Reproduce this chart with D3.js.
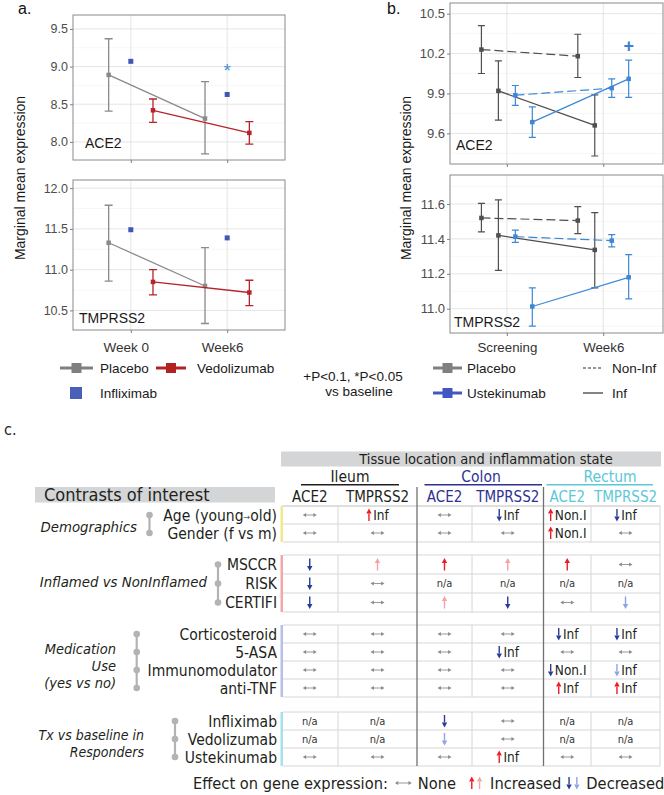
<!DOCTYPE html>
<html><head><meta charset="utf-8">
<script src="https://cdn.jsdelivr.net/npm/d3@7/dist/d3.min.js"></script>
<style>
html,body{margin:0;padding:0;background:#fff;}
svg{display:block;}
.cond{font-family:"DejaVu Sans Condensed","DejaVu Sans",sans-serif;font-stretch:condensed;}
</style></head><body>
<svg id="chart" width="664" height="795"></svg>
<script>
// ---------------- DATA ----------------
// Panel a (x categories)
const weeksA = ["Week 0", "Week6"];
// [mean, lower, upper] per timepoint
const aAce2Placebo      = [[8.89, 8.41, 9.37], [8.31, 7.84, 8.80]];
const aAce2Vedolizumab  = [[8.42, 8.26, 8.57], [8.12, 7.97, 8.27]];
const aAce2Infliximab   = [9.07, 8.63];
const aTmpPlacebo       = [[11.33, 10.86, 11.79], [10.80, 10.34, 11.27]];
const aTmpVedolizumab   = [[10.85, 10.69, 11.00], [10.72, 10.56, 10.87]];
const aTmpInfliximab    = [11.49, 11.39];
const aAce2Ticks = [8.0, 8.5, 9.0, 9.5];
const aTmpTicks  = [10.5, 11.0, 11.5, 12.0];
const aAce2SigLabel = ["", "*"];
const aAce2SigValue = [null, 8.99];

// Panel b
const weeksB = ["Screening", "Week6"];
const bAce2PlaceboNonInf = [[10.23, 10.05, 10.41], [10.18, 10.02, 10.345]];
const bAce2PlaceboInf    = [[9.92, 9.70, 10.145], [9.66, 9.43, 9.89]];
const bAce2UsteNonInf    = [[9.887, 9.81, 9.96], [9.94, 9.87, 10.01]];
const bAce2UsteInf       = [[9.685, 9.57, 9.80], [10.01, 9.87, 10.15]];
const bTmpPlaceboNonInf  = [[11.52, 11.44, 11.604], [11.505, 11.43, 11.585]];
const bTmpPlaceboInf     = [[11.42, 11.22, 11.623], [11.337, 11.12, 11.55]];
const bTmpUsteNonInf     = [[11.413, 11.38, 11.45], [11.39, 11.354, 11.425]];
const bTmpUsteInf        = [[11.013, 10.90, 11.12], [11.18, 11.057, 11.31]];
const bAce2Ticks = [9.6, 9.9, 10.2, 10.5];
const bTmpTicks  = [11.0, 11.2, 11.4, 11.6];
const bAce2SigLabel = ["", "+"];
const bAce2SigValue = [null, 10.26];

// Panel c
const cTissues = ["Ileum", "Colon", "Rectum"];
const cGenes = ["ACE2", "TMPRSS2", "ACE2", "TMPRSS2", "ACE2", "TMPRSS2"];
const cDemoRows = ["Age (young\u2192old)", "Gender (f vs m)"];
const cDemoCells = [
  ["none", "up Inf", "none", "down Inf", "up Non.I", "down Inf"],
  ["none", "none", "none", "none", "up Non.I", "none"]];
const cInflRows = ["MSCCR", "RISK", "CERTIFI"];
const cInflCells = [
  ["down", "upL", "up", "upL", "up", "none"],
  ["down", "none", "na", "na", "na", "na"],
  ["down", "none", "upL", "down", "none", "downL"]];
const cMedRows = ["Corticosteroid", "5-ASA", "Immunomodulator", "anti-TNF"];
const cMedCells = [
  ["none", "none", "none", "none", "down Inf", "down Inf"],
  ["none", "none", "none", "down Inf", "none", "none"],
  ["none", "none", "none", "none", "down Non.I", "downL Inf"],
  ["none", "none", "none", "none", "up Inf", "up Inf"]];
const cTxRows = ["Infliximab", "Vedolizumab", "Ustekinumab"];
const cTxCells = [
  ["na", "na", "down", "none", "na", "na"],
  ["na", "na", "downL", "none", "na", "na"],
  ["none", "none", "none", "up Inf", "none", "none"]];
const cGroupLabels = [["Demographics"], ["Inflamed vs NonInflamed"], ["Medication", "Use", "(yes vs no)"], ["Tx vs baseline in", "Responders"]];

// ---------------- DRAW ----------------
const SANS = '"Liberation Sans", Arial, Helvetica, sans-serif';
const svg = d3.select("#chart");
svg.append("rect").attr("width", 664).attr("height", 795).attr("fill", "#fff");

function styleAxis(sel, fs) {
  sel.select(".domain").remove();
  sel.selectAll(".tick line").attr("stroke", "#7f7f7f");
  sel.selectAll(".tick text").attr("fill", "#4d4d4d").attr("font-size", fs).attr("font-family", SANS);
}

function makePanel(o) {
  const x = d3.scaleLinear().domain(o.xdom).range([o.l, o.r]);
  const y = d3.scaleLinear().domain(o.ydom).range([o.b, o.t]);
  const g = svg.append("g");
  const step = o.ticks[1] - o.ticks[0];
  const minor = d3.range(-1, o.ticks.length).map(i => o.ticks[0] + (i + 0.5) * step)
    .filter(v => v > o.ydom[0] && v < o.ydom[1]);
  g.selectAll("line.mn").data(minor).join("line").attr("class", "mn")
    .attr("x1", o.l).attr("x2", o.r).attr("y1", d => y(d)).attr("y2", d => y(d))
    .attr("stroke", "#f1f1f1").attr("stroke-width", 0.6);
  g.selectAll("line.mj").data(o.ticks).join("line").attr("class", "mj")
    .attr("x1", o.l).attr("x2", o.r).attr("y1", d => y(d)).attr("y2", d => y(d))
    .attr("stroke", "#e2e2e2").attr("stroke-width", 0.9);
  g.selectAll("line.vx").data([1, 2]).join("line").attr("class", "vx")
    .attr("x1", d => x(d)).attr("x2", d => x(d)).attr("y1", o.t).attr("y2", o.b)
    .attr("stroke", "#e2e2e2").attr("stroke-width", 0.9);
  g.append("rect").attr("x", o.l).attr("y", o.t).attr("width", o.r - o.l).attr("height", o.b - o.t)
    .attr("fill", "none").attr("stroke", "#8a8a8a").attr("stroke-width", 1);
  const ya = g.append("g").attr("transform", `translate(${o.l},0)`)
    .call(d3.axisLeft(y).tickValues(o.ticks).tickSize(3).tickPadding(2).tickFormat(d3.format(".1f")));
  styleAxis(ya, o.fs);
  const xa = g.append("g").attr("transform", `translate(0,${o.b})`)
    .call(d3.axisBottom(x).tickValues([1, 2]).tickSize(3).tickPadding(o.xpad)
      .tickFormat(d => o.showX ? o.cats[d - 1] : ""));
  styleAxis(xa, o.xfs);
  xa.selectAll(".tick text").attr("fill", "#333").attr("dx", o.xdx || 0);
  g.append("text").attr("x", o.labX).attr("y", o.labY).text(o.label)
    .attr("font-family", SANS).attr("font-size", 14).attr("fill", "#1a1a1a");
  return { x, y, g };
}

function drawSeries(p, data, off, color, o) {
  const pts = data.map((d, i) => ({ cx: p.x(i + 1 + off), m: p.y(d[0]), lo: p.y(d[1]), hi: p.y(d[2]) }));
  const g = p.g.append("g");
  g.append("path").attr("d", d3.line().x(d => d.cx).y(d => d.m)(pts))
    .attr("fill", "none").attr("stroke", color).attr("stroke-width", o.lw)
    .attr("stroke-dasharray", o.dash || null);
  g.selectAll("path.eb").data(pts).join("path").attr("class", "eb")
    .attr("d", d => `M${d.cx},${d.lo}V${d.hi}M${d.cx - o.cap},${d.lo}H${d.cx + o.cap}M${d.cx - o.cap},${d.hi}H${d.cx + o.cap}`)
    .attr("fill", "none").attr("stroke", color).attr("stroke-width", o.lw);
  g.selectAll("rect").data(pts).join("rect")
    .attr("x", d => d.cx - o.sq / 2).attr("y", d => d.m - o.sq / 2)
    .attr("width", o.sq).attr("height", o.sq).attr("fill", color);
}

function drawPoints(p, vals, off, color, sq) {
  p.g.append("g").selectAll("rect").data(vals).join("rect")
    .attr("x", (d, i) => p.x(i + 1 + off) - sq / 2).attr("y", d => p.y(d) - sq / 2)
    .attr("width", sq).attr("height", sq).attr("fill", color);
}

function drawSig(p, labels, vals, off, color, fs, weight, dy) {
  p.g.append("g").selectAll("text").data(labels).join("text")
    .filter(d => d !== "")
    .attr("x", (d, i) => p.x(2 + off)).attr("y", (d, i) => p.y(vals[1]) + dy)
    .attr("text-anchor", "middle").attr("font-family", SANS).attr("font-size", fs)
    .attr("font-weight", weight).attr("fill", color).text(d => d);
}

// ---- Panel a ----
const colPlaA = "#8a8a8a", colVedo = "#b5242a", colIfx = "#3f58b5";
const aOff = 0.23;
const pAT = makePanel({ l: 73, r: 285, t: 15, b: 160, xdom: [0.4, 2.6], ydom: [7.76, 9.685], ticks: aAce2Ticks,
  cats: weeksA, showX: false, fs: 12.5, xfs: 13.5, xpad: 9, label: "ACE2", labX: 85, labY: 148 });
drawSeries(pAT, aAce2Placebo, -aOff, colPlaA, { lw: 1.3, cap: 4, sq: 4.5 });
drawSeries(pAT, aAce2Vedolizumab, aOff, colVedo, { lw: 1.3, cap: 4, sq: 4.5 });
drawPoints(pAT, aAce2Infliximab, 0, colIfx, 5);
drawSig(pAT, aAce2SigLabel, aAce2SigValue, 0, "#4a90d9", 19, "normal", 10);

const pAB = makePanel({ l: 73, r: 285, t: 180, b: 330, xdom: [0.4, 2.6], ydom: [10.26, 12.10], ticks: aTmpTicks,
  cats: weeksA, showX: true, fs: 12.5, xfs: 13.5, xpad: 9, xdx: -5, label: "TMPRSS2", labX: 79, labY: 323 });
drawSeries(pAB, aTmpPlacebo, -aOff, colPlaA, { lw: 1.3, cap: 4, sq: 4.5 });
drawSeries(pAB, aTmpVedolizumab, aOff, colVedo, { lw: 1.3, cap: 4, sq: 4.5 });
drawPoints(pAB, aTmpInfliximab, 0, colIfx, 5);

// ---- Panel b ----
const colPlaB = "#4f4f4f", colUste = "#3d88d6";
const bA = 0.088;
const pBT = makePanel({ l: 450, r: 663, t: 3, b: 164, xdom: [0.41, 2.62], ydom: [9.37, 10.58], ticks: bAce2Ticks,
  cats: weeksB, showX: false, fs: 13, xfs: 13.3, xpad: 7, label: "ACE2", labX: 456, labY: 150 });
drawSeries(pBT, bAce2PlaceboNonInf, -3 * bA, colPlaB, { lw: 1.2, cap: 3.5, sq: 4.5, dash: "9,4" });
drawSeries(pBT, bAce2PlaceboInf, -bA, colPlaB, { lw: 1.2, cap: 3.5, sq: 4.5 });
drawSeries(pBT, bAce2UsteNonInf, bA, colUste, { lw: 1.2, cap: 3.5, sq: 4.5, dash: "9,4" });
drawSeries(pBT, bAce2UsteInf, 3 * bA, colUste, { lw: 1.2, cap: 3.5, sq: 4.5 });
drawSig(pBT, bAce2SigLabel, bAce2SigValue, 3 * bA, "#3a7fd0", 18, "bold", 6);

const pBB = makePanel({ l: 450, r: 663, t: 175, b: 333, xdom: [0.41, 2.62], ydom: [10.861, 11.766], ticks: bTmpTicks,
  cats: weeksB, showX: true, fs: 13, xfs: 13.3, xpad: 7, label: "TMPRSS2", labX: 454, labY: 327 });
drawSeries(pBB, bTmpPlaceboNonInf, -3 * bA, colPlaB, { lw: 1.2, cap: 3.5, sq: 4.5, dash: "9,4" });
drawSeries(pBB, bTmpPlaceboInf, -bA, colPlaB, { lw: 1.2, cap: 3.5, sq: 4.5 });
drawSeries(pBB, bTmpUsteNonInf, bA, colUste, { lw: 1.2, cap: 3.5, sq: 4.5, dash: "9,4" });
drawSeries(pBB, bTmpUsteInf, 3 * bA, colUste, { lw: 1.2, cap: 3.5, sq: 4.5 });

// axis titles & panel letters
[[25, 178], [411, 178]].forEach(([x, y]) => {
  svg.append("text").attr("transform", `translate(${x},${y}) rotate(-90)`).attr("text-anchor", "middle")
    .attr("font-family", SANS).attr("font-size", 14).attr("fill", "#1a1a1a").text("Marginal mean expression");
});
svg.append("text").attr("x", 18).attr("y", 14).attr("font-family", SANS).attr("font-size", 16).attr("fill", "#111").text("a.");
svg.append("text").attr("x", 387).attr("y", 14).attr("font-family", SANS).attr("font-size", 16).attr("fill", "#111").text("b.");

// legends
function legKey(x1, x2, y, color, sq, lw) {
  svg.append("line").attr("x1", x1).attr("x2", x2).attr("y1", y).attr("y2", y).attr("stroke", color).attr("stroke-width", lw);
  svg.append("rect").attr("x", (x1 + x2) / 2 - sq / 2).attr("y", y - sq / 2).attr("width", sq).attr("height", sq).attr("fill", color);
}
function legText(x, y, t, anchor) {
  svg.append("text").attr("x", x).attr("y", y).attr("text-anchor", anchor || "start")
    .attr("font-family", SANS).attr("font-size", 13.5).attr("fill", "#1a1a1a").text(t);
}
legKey(60, 93, 368, "#808080", 10, 3); legText(100, 373, "Placebo");
legKey(156, 186, 368, "#b22222", 10, 3); legText(197, 373, "Vedolizumab");
svg.append("rect").attr("x", 70).attr("y", 387).attr("width", 12).attr("height", 12).attr("fill", "#4a5fb8");
legText(100, 398, "Infliximab");
legText(353, 381, "+P<0.1, *P<0.05", "middle");
legText(359, 396, "vs baseline", "middle");
legKey(433, 462, 368, "#808080", 10, 3); legText(467, 373, "Placebo");
legKey(433, 462, 393, "#4258c0", 10, 3); legText(467, 398, "Ustekinumab");
svg.append("line").attr("x1", 583).attr("x2", 603).attr("y1", 368).attr("y2", 368).attr("stroke", "#333").attr("stroke-width", 1).attr("stroke-dasharray", "3,2");
legText(612, 373, "Non-Inf");
svg.append("line").attr("x1", 583).attr("x2", 603).attr("y1", 393).attr("y2", 393).attr("stroke", "#333").attr("stroke-width", 1.2);
legText(612, 398, "Inf");

// ---- Panel c ----
const C = svg.append("g");
function ctext(x, y, t, fs, opts) {
  opts = opts || {};
  return C.append("text").attr("class", "cond").attr("x", x).attr("y", y).attr("font-size", fs)
    .attr("text-anchor", opts.anchor || "start").attr("fill", opts.fill || "#231f20")
    .attr("font-style", opts.italic ? "italic" : "normal").text(t);
}
ctext(4, 435, "c.", 16);

const colX = [281.5, 338, 417, 472, 543.5, 591, 660];
const colC = colX.slice(0, 6).map((v, i) => (v + colX[i + 1]) / 2);
const tissueColor = ["#231f20", "#2e3192", "#5cc8d6"];
const tissueSpan = [[301, 399], [424.5, 542], [546.5, 653]];
const tissueCenter = [350, 481, 610];

C.append("rect").attr("x", 281).attr("y", 451.5).attr("width", 380).attr("height", 15).attr("fill", "#d4d5d6");
ctext(486, 463.5, "Tissue location and inflammation state", 14.5, { anchor: "middle" });
C.append("rect").attr("x", 35).attr("y", 487).attr("width", 240).attr("height", 15.5).attr("fill", "#d4d5d6");
ctext(44, 501, "Contrasts of interest", 18);

cTissues.forEach((t, i) => {
  ctext(tissueCenter[i], 482, t, 15.5, { anchor: "middle", fill: tissueColor[i] });
  C.append("line").attr("x1", tissueSpan[i][0]).attr("x2", tissueSpan[i][1]).attr("y1", 484.8).attr("y2", 484.8)
    .attr("stroke", tissueColor[i]).attr("stroke-width", 1.6);
});
cGenes.forEach((gname, i) => {
  ctext(colC[i], 502, gname, 15, { anchor: "middle", fill: tissueColor[Math.floor(i / 2)] });
});
C.append("line").attr("x1", 281.5).attr("x2", 660).attr("y1", 506).attr("y2", 506).attr("stroke", "#d0d0d0");

const sections = [
  { rows: cDemoRows, cells: cDemoCells, top: 506, h: 18, bar: "#f3e98c", dotX: 149.5, labR: 137, labOff: 3, lineH: 15, labFs: 14.8 },
  { rows: cInflRows, cells: cInflCells, top: 555, h: 19, bar: "#f4a7a7", dotX: 218, labR: 207, labOff: -1.5, lineH: 15, labFs: 14.8 },
  { rows: cMedRows, cells: cMedCells, top: 625, h: 18, bar: "#b6bfe8", dotX: 136.7, labR: 116, labOff: 5, lineH: 17, labFs: 14.5 },
  { rows: cTxRows, cells: cTxCells, top: 712, h: 18, bar: "#a5dff0", dotX: 175, labR: 144, labOff: 4, lineH: 17, labFs: 14 }
];
const tableBottom = 766;

function hArrow(g, x, y, col, w) {
  w = w || 14; col = col || "#8c8c8c";
  g.append("line").attr("x1", x - w / 2 + 2).attr("x2", x + w / 2 - 2).attr("y1", y).attr("y2", y).attr("stroke", col).attr("stroke-width", 0.9);
  g.append("path").attr("d", `M${x - w / 2},${y}L${x - w / 2 + 3.4},${y - 1.9}L${x - w / 2 + 3.4},${y + 1.9}Z`).attr("fill", col);
  g.append("path").attr("d", `M${x + w / 2},${y}L${x + w / 2 - 3.4},${y - 1.9}L${x + w / 2 - 3.4},${y + 1.9}Z`).attr("fill", col);
}
function vArrow(g, x, y, dir, color) {
  const tip = y + dir * 6.5, tail = y - dir * 6, base = tip - dir * 5;
  g.append("line").attr("x1", x).attr("x2", x).attr("y1", tail).attr("y2", base).attr("stroke", color).attr("stroke-width", 1.4);
  g.append("path").attr("d", `M${x},${tip}L${x - 2.7},${base}L${x + 2.7},${base}Z`).attr("fill", color);
}
const arrowColor = { up: "#ed1c24", upL: "#f5a3a3", down: "#2b3a95", downL: "#8ea3e3" };
function drawCell(g, cx, cy, code) {
  const parts = code.split(" ");
  const kind = parts[0], lab = parts[1];
  if (kind === "none") { hArrow(g, cx, cy); return; }
  if (kind === "na") {
    g.append("text").attr("class", "cond").attr("x", cx).attr("y", cy).attr("dy", "0.35em")
      .attr("text-anchor", "middle").attr("font-size", 11).attr("fill", "#333").text("n/a");
    return;
  }
  const color = arrowColor[kind];
  const dir = kind.startsWith("up") ? -1 : 1;
  if (!lab) { vArrow(g, cx, cy, dir, color); return; }
  const t = g.append("text").attr("class", "cond").attr("y", cy).attr("dy", "0.36em")
    .attr("font-size", 13.5).attr("fill", "#231f20").text(lab);
  const tw = t.node().getComputedTextLength();
  const aw = 5.4, gap = 1.5;
  const ax = cx - (aw + gap + tw) / 2 + aw / 2;
  vArrow(g, ax, cy, dir, color);
  t.attr("x", ax + aw / 2 + gap);
}

sections.forEach((s, si) => {
  const bottom = s.top + s.rows.length * s.h;
  const yb = d3.scaleBand().domain(s.rows).range([s.top, bottom]);
  const g = C.append("g");
  d3.range(s.rows.length + 1).forEach(k => {
    g.append("line").attr("x1", 283).attr("x2", 660).attr("y1", s.top + k * s.h).attr("y2", s.top + k * s.h)
      .attr("stroke", "#d6d6d6").attr("stroke-width", 1);
  });
  [colX[1], colX[3], colX[5]].forEach(x => {
    g.append("line").attr("x1", x).attr("x2", x).attr("y1", s.top).attr("y2", bottom).attr("stroke", "#d6d6d6");
  });
  g.append("rect").attr("x", 280.5).attr("y", s.top).attr("width", 2.5).attr("height", bottom - s.top).attr("fill", s.bar);
  s.rows.forEach((r, ri) => {
    const cy = yb(r) + yb.bandwidth() / 2;
    if (r.indexOf("\u2192") >= 0) {
      const [a, b] = r.split("\u2192");
      const t = g.append("text").attr("class", "cond").attr("x", 277).attr("y", cy).attr("dy", "0.36em")
        .attr("text-anchor", "end").attr("font-size", 15.5).attr("fill", "#231f20");
      t.append("tspan").text(a);
      t.append("tspan").attr("font-size", 9).attr("fill", "#555").attr("dy", "-0.1em").text("\u2192");
      t.append("tspan").attr("dy", "0.1em").text(b);
    } else {
      g.append("text").attr("class", "cond").attr("x", 277).attr("y", cy).attr("dy", "0.36em")
        .attr("text-anchor", "end").attr("font-size", 15.5).attr("fill", "#231f20").text(r);
    }
    s.cells[ri].forEach((code, ci) => drawCell(g, colC[ci], cy, code));
  });
  const c0 = yb(s.rows[0]) + yb.bandwidth() / 2, c1 = yb(s.rows[s.rows.length - 1]) + yb.bandwidth() / 2;
  g.append("line").attr("x1", s.dotX).attr("x2", s.dotX).attr("y1", c0).attr("y2", c1).attr("stroke", "#b3b3b3").attr("stroke-width", 2.2);
  g.selectAll("circle").data(s.rows).join("circle").attr("cx", s.dotX).attr("cy", d => yb(d) + yb.bandwidth() / 2)
    .attr("r", 3.3).attr("fill", "#b3b3b3");
  const lines = cGroupLabels[si];
  const mid = (s.top + bottom) / 2 + s.labOff;
  lines.forEach((ln, li) => {
    const cy = mid + (li - (lines.length - 1) / 2) * s.lineH;
    g.append("text").attr("class", "cond").attr("x", s.labR).attr("y", cy).attr("dy", "0.36em")
      .attr("text-anchor", "end").attr("font-size", s.labFs).attr("font-style", "italic").attr("fill", "#231f20").text(ln);
  });
});
C.append("line").attr("x1", 660).attr("x2", 660).attr("y1", 506).attr("y2", tableBottom).attr("stroke", "#d6d6d6");
[colX[2], colX[4]].forEach(x => {
  C.append("line").attr("x1", x).attr("x2", x).attr("y1", 487).attr("y2", tableBottom).attr("stroke", "#707070").attr("stroke-width", 1.3);
});

// effect legend
(function () {
  const y = 783, fs = 16.3;
  let x = 193;
  const t1 = ctext(x, y, "Effect on gene expression:", fs); t1.attr("dy", "0.36em");
  x += t1.node().getComputedTextLength() + 7;
  hArrow(C, x + 8.5, y, "#8c8c8c", 17); x += 17 + 6;
  const t2 = ctext(x, y, "None", fs); t2.attr("dy", "0.36em");
  x += t2.node().getComputedTextLength() + 13;
  vArrow(C, x + 2.7, y, -1, arrowColor.up); vArrow(C, x + 10.5, y, -1, arrowColor.upL); x += 13 + 8;
  const t3 = ctext(x, y, "Increased", fs); t3.attr("dy", "0.36em");
  x += t3.node().getComputedTextLength() + 5;
  vArrow(C, x + 2.7, y, 1, arrowColor.down); vArrow(C, x + 10.5, y, 1, arrowColor.downL); x += 13 + 7;
  const t4 = ctext(x, y, "Decreased", fs); t4.attr("dy", "0.36em");
})();
</script></body></html>
